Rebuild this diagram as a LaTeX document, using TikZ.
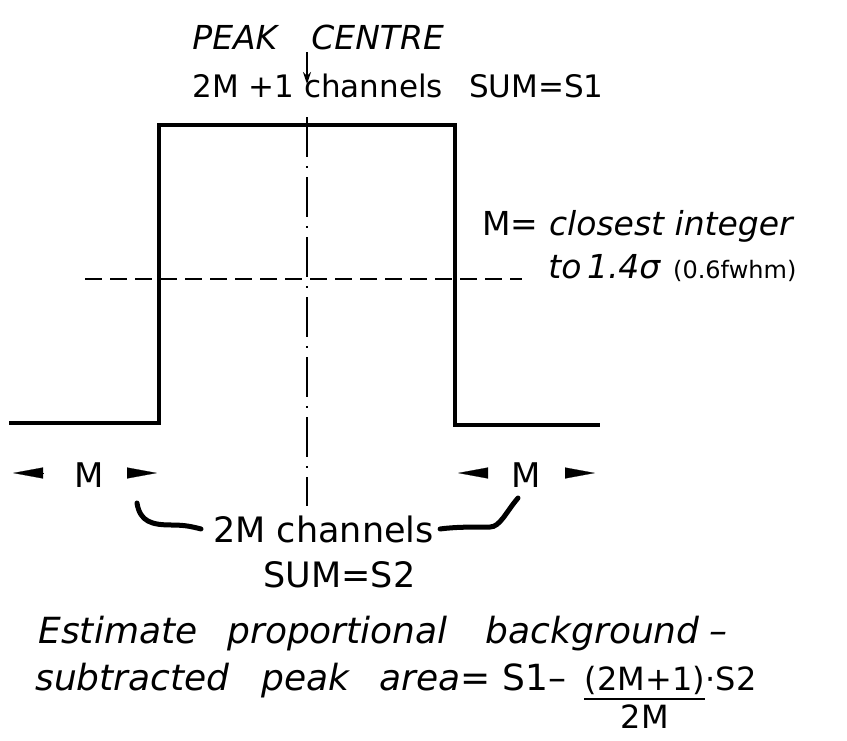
\documentclass[tikz,border=0pt]{standalone}
\usepackage{fontspec}
\setmainfont{DejaVu Sans}
\usetikzlibrary{arrows.meta}

\begin{document}
\begin{tikzpicture}[x=0.5pt,y=-0.5pt]
		\tikzset{lbl/.style={inner sep=0pt,anchor=base west,font=\fontsize{#1}{#1}\selectfont},
			ilbl/.style={lbl=#1,font=\fontsize{#1}{#1}\selectfont\itshape},
			wedge/.style={line width=0.1pt,-{Triangle[length=15pt,width=5.5pt]}},
			hook/.style={line width=2.5pt,line cap=round}};
		\useasboundingbox (0,0) rectangle (847,740);
		\draw[line width=1.7pt] (9,423) -- (159,423) -- (159,125) -- (455,125) -- (455,425) -- (600,425);
		\coordinate (ctop) at (307,117);
		\coordinate (cbot) at (307,506);
		\draw[line width=1.2pt,dash pattern=on 20pt off 4.5pt on 1pt off 4.5pt] (ctop) -- (cbot);
		\coordinate (hleft) at (85,279);
		\coordinate (hright) at (522,279);
		\draw[line width=1pt,dash pattern=on 8.5pt off 4pt] (hleft) -- (hright);

		\node[ilbl=16.5] (peak) at (192,49) {PEAK\hspace{17pt}CENTRE};
		\coordinate (pktop) at (307,52);
		\coordinate (pktip) at (307,84);
		\draw[line width=1pt,-{Stealth[length=6pt,width=4pt]}] (pktop) -- (pktip);
		\node[lbl=15.5] (sumone) at (192,97) {2M +1 channels\hspace{13pt}SUM=S1};

		\node[lbl=16.5] (mdef) at (482,235) {M= \textit{closest integer}};
		\node[ilbl=16.5] (mto) at (548,278) {to\,1.4σ};
		\node[lbl=12] (fwhm) at ([xshift=6pt]mto.base east) {(0.6fwhm)};

		\node[lbl=17,anchor=base] (mleft) at (89,487) {M};
		\node[lbl=17,anchor=base] (mright) at (526,487) {M};
		\foreach \a/\b in {43/13,127/157,487/458,565/595}
			\draw[wedge] (\a,473) -- (\b,473);

		\node[lbl=17.5] (chantwo) at (213,542) {2M channels};
		\node[lbl=17.5] (sumtwo) at (263,587) {SUM=S2};
		\coordinate (hookl) at (137,503);
		\coordinate (hookr) at (518,498);
		\draw[hook] (hookl) .. controls (140,522) and (152,525) .. (172,525) .. controls (186,525) and (193,527) .. ([xshift=-6pt]chantwo.west);
		\draw[hook] ([xshift=3pt]chantwo.east) .. controls (455,527) and (470,527) .. (490,527) .. controls (500,527) and (506,512) .. (hookr);

		\node[ilbl=18] (est) at (38,643) {Estimate\hspace{15pt}proportional\hspace{19pt}background\hspace{5pt}–};
		\node[ilbl=18] (subt) at (35,690) {subtracted\hspace{16pt}peak\hspace{15pt}area\upshape= S1–};
		\node[lbl=16] (num) at ([xshift=9pt]subt.base east) {(2M+1)};
		\node[lbl=16] (dotstwo) at (num.base east) {·S2};
		\draw[line width=1pt] ([yshift=-2pt]num.south west) -- ([yshift=-2pt]num.south east);
		\node[lbl=16,anchor=north] (den) at ([yshift=-5pt]num.south) {2M};
	\end{tikzpicture}
\end{document}
